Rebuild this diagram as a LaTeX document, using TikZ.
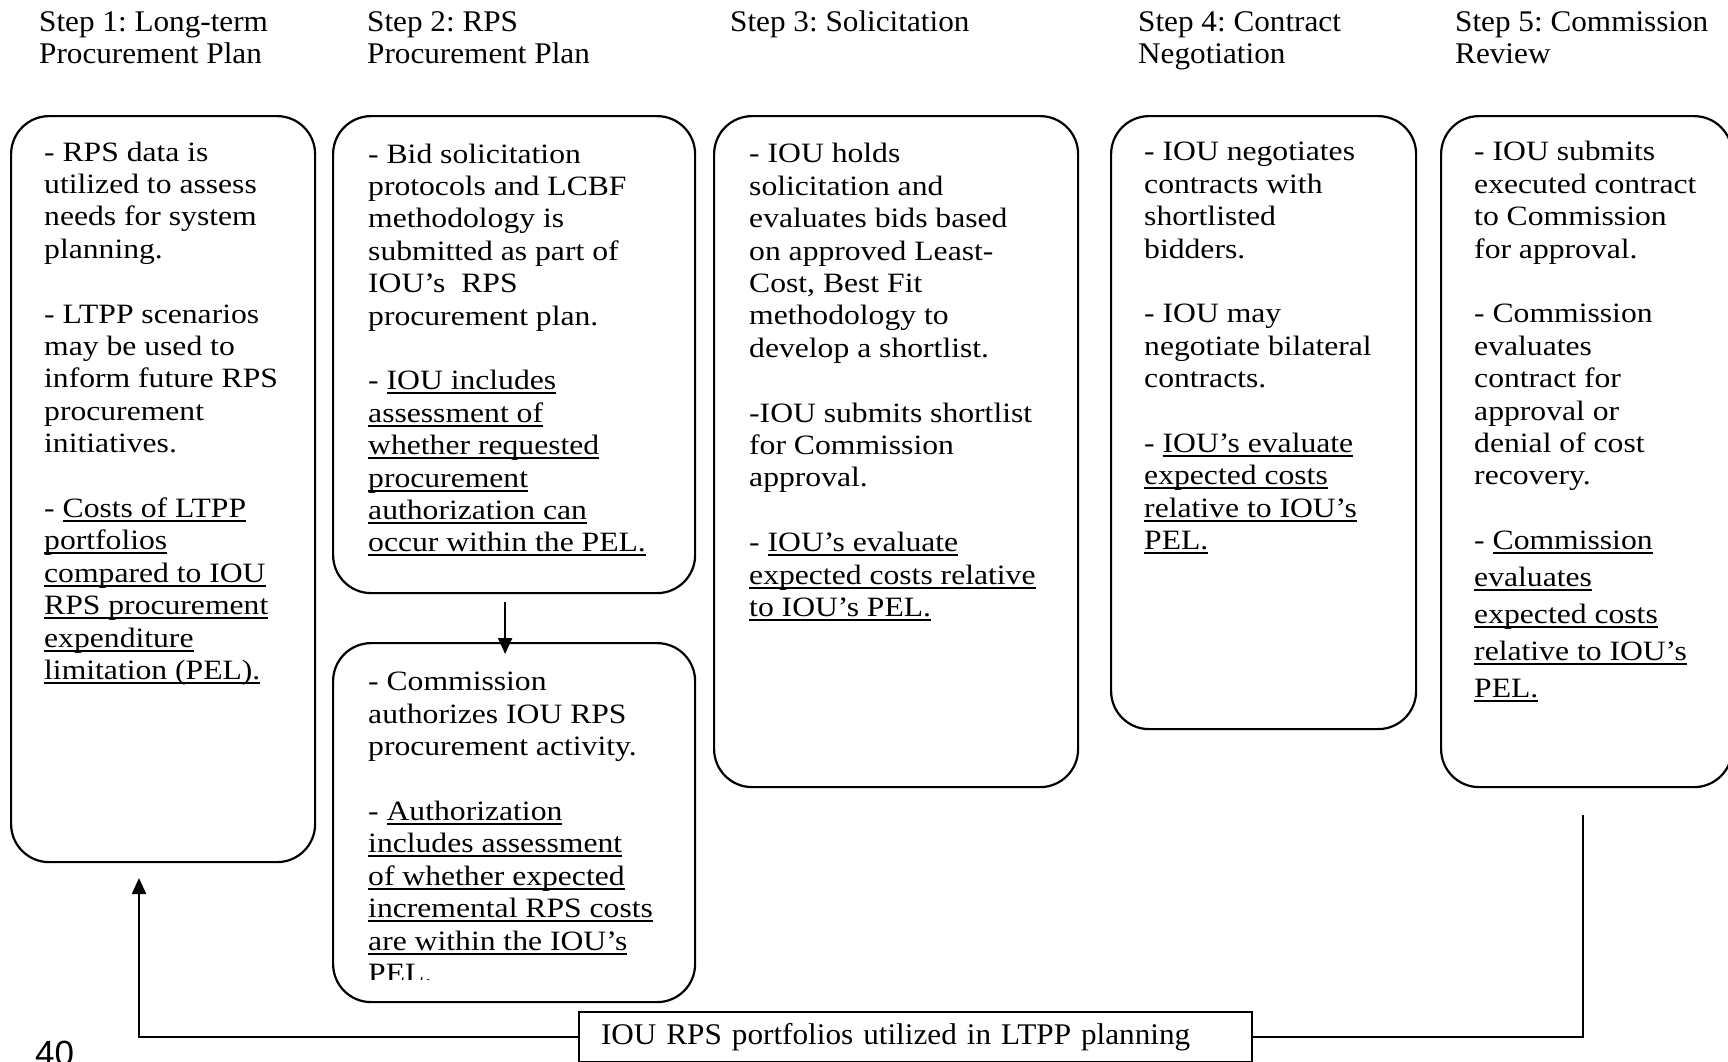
\documentclass[tikz,border=0pt]{standalone}
\usepackage{fontspec}
\setmainfont{Liberation Serif}
\setsansfont{Liberation Sans}
\newfontfamily\boxfont[FakeStretch=1.13]{Liberation Serif}
\newfontfamily\headfont[FakeStretch=1.04]{Liberation Serif}
\usetikzlibrary{arrows.meta,positioning}
\frenchspacing
\newsavebox\undlbox
\newcommand\undl[1]{\sbox\undlbox{#1}\rlap{\rule[-4.5pt]{\wd\undlbox}{2pt}}\usebox\undlbox}
\tikzset{
  stepbox/.style={draw,line width=2.2pt,rounded corners=38pt,anchor=north west,inner sep=0pt},
  boxtext/.style={inner sep=0pt,align=left,font=\boxfont\fontsize{28}{32.4}\selectfont},
  headtext/.style={anchor=north west,inner sep=0pt,align=left,font=\headfont\fontsize{30}{32}\selectfont},
  flow/.style={line width=2.2pt,-{Triangle[length=16pt,width=14pt]}}
}
\begin{document}
\begin{tikzpicture}[x=1pt,y=-1pt]
\useasboundingbox (0,0) rectangle (1728,1061);
% step titles
\node[headtext] (h1) at (39,8.6) {\strut Step 1: Long-term\\Procurement Plan};
\node[headtext] (h2) at (367,8.6) {\strut Step 2: RPS\\Procurement Plan};
\node[headtext] (h3) at (730,8.6) {\strut Step 3: Solicitation};
\node[headtext] (h4) at (1138,8.6) {\strut Step 4: Contract\\Negotiation};
\node[headtext] (h5) at (1455,8.6) {\strut Step 5: Commission\\Review};
% boxes
\node[stepbox,minimum width=304pt,minimum height=746pt] (b1) at (10,115) {};
\node[stepbox,minimum width=362pt,minimum height=477pt] (b2) at (332,115) {};
\node[stepbox,minimum width=362pt,minimum height=359pt] (b2b) at (332,642) {};
\node[stepbox,minimum width=364pt,minimum height=671pt] (b3) at (713,115) {};
\node[stepbox,minimum width=305pt,minimum height=613pt] (b4) at (1110,115) {};
\node[stepbox,minimum width=291pt,minimum height=671pt] (b5) at (1440,115) {};
% box texts
\node[boxtext,below right=23.3pt and 34pt of b1.north west] (t1) {\strut- RPS data is\\
utilized to assess\\
needs for system\\
planning.\\[32.4pt]
- LTPP scenarios\\
may be used to\\
inform future RPS\\
procurement\\
initiatives.\\[32.4pt]
- \undl{Costs of LTPP}\\
\undl{portfolios}\\
\undl{compared to IOU}\\
\undl{RPS procurement}\\
\undl{expenditure}\\
\undl{limitation (PEL).}};
\node[boxtext,below right=25.3pt and 36pt of b2.north west] (t2) {\strut- Bid solicitation\\
protocols and LCBF\\
methodology is\\
submitted as part of\\
IOU’s\ \ RPS\\
procurement plan.\\[32.4pt]
- \undl{IOU includes}\\
\undl{assessment of}\\
\undl{whether requested}\\
\undl{procurement}\\
\undl{authorization can}\\
\undl{occur within the PEL.}};
\begin{scope}
\clip (332,642) rectangle (694,979);
\node[boxtext,below right=26pt and 36pt of b2b.north west] (t2b) {\strut- Commission\\
authorizes IOU RPS\\
procurement activity.\\[32.4pt]
- \undl{Authorization}\\
\undl{includes assessment}\\
\undl{of whether expected}\\
\undl{incremental RPS costs}\\
\undl{are within the IOU’s}\\
\undl{PEL.}};
\end{scope}
\node[boxtext,below right=25pt and 36pt of b3.north west] (t3) {\strut- IOU holds\\
solicitation and\\
evaluates bids based\\
on approved Least-\\
Cost, Best Fit\\
methodology to\\
develop a shortlist.\\[32.4pt]
-IOU submits shortlist\\
for Commission\\
approval.\\[32.4pt]
- \undl{IOU’s evaluate}\\
\undl{expected costs relative}\\
\undl{to IOU’s PEL.}};
\node[boxtext,below right=23pt and 34pt of b4.north west] (t4) {\strut- IOU negotiates\\
contracts with\\
shortlisted\\
bidders.\\[32.4pt]
- IOU may\\
negotiate bilateral\\
contracts.\\[32.4pt]
- \undl{IOU’s evaluate}\\
\undl{expected costs}\\
\undl{relative to IOU’s}\\
\undl{PEL.}};
\node[boxtext,below right=23pt and 34pt of b5.north west] (t5) {\strut- IOU submits\\
executed contract\\
to Commission\\
for approval.\\[32.4pt]
- Commission\\
evaluates\\
contract for\\
approval or\\
denial of cost\\
recovery.\\[32.4pt]
- \undl{Commission}\\[4.6pt]
\undl{evaluates}\\[4.6pt]
\undl{expected costs}\\[4.6pt]
\undl{relative to IOU’s}\\[4.6pt]
\undl{PEL.}};
% feedback box and lines
\node[draw,line width=2.2pt,inner xsep=22pt,text width=629pt,minimum height=50pt,align=left,
  font=\headfont\fontsize{30}{32}\selectfont] (ltpp) at (915.5,1037) {IOU RPS portfolios utilized in LTPP planning};
\coordinate (up1) at (139,878);
\coordinate (up5) at (1583,815);
\draw[flow] ([xshift=-9pt,yshift=-8pt]b2.south) -- ([xshift=-9pt,yshift=-12pt]b2b.north);
\draw[flow] (ltpp.west) -| (up1);
\draw[line width=2.2pt] (ltpp.east) -| (up5);
\node[anchor=base west,inner sep=0pt,font=\sffamily\fontsize{35}{40}\selectfont] (pg) at (35,1065) {40};
\end{tikzpicture}
\end{document}
